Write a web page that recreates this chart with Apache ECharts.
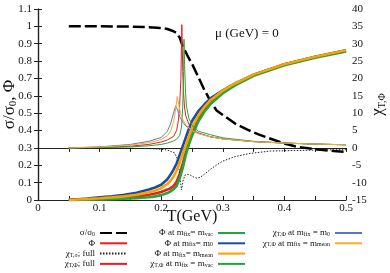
<!DOCTYPE html>
<html><head><meta charset="utf-8">
<script src="https://cdn.jsdelivr.net/npm/echarts@6/dist/echarts.min.js"></script>
<style>html,body{margin:0;padding:0;background:#fff}#c{width:390px;height:273px}</style>
</head><body><div id="c"></div>
<script>
// ---- data ----
const T_sigma = [0.05,0.1,0.15,0.18,0.2,0.21,0.22,0.225,0.23,0.235,0.24,0.245,0.25,0.26,0.27,0.28,0.29,0.3,0.32,0.34,0.36,0.38,0.4,0.42,0.45,0.48,0.5];
const sigmaRatio = [1.0,1.0,0.999,0.995,0.99,0.985,0.972,0.962,0.935,0.885,0.85,0.815,0.785,0.71,0.635,0.57,0.515,0.49,0.44,0.405,0.375,0.35,0.325,0.307,0.292,0.282,0.277];

const T_phi = [0.05,0.08,0.1,0.12,0.14,0.16,0.18,0.19,0.2,0.21,0.215,0.22,0.225,0.23,0.235,0.24,0.245,0.25,0.26,0.27,0.28,0.3,0.32,0.35,0.4,0.45,0.5];
const phiFull = [0,0.003,0.005,0.008,0.012,0.019,0.03,0.037,0.046,0.06,0.068,0.08,0.105,0.15,0.21,0.275,0.335,0.385,0.465,0.52,0.565,0.625,0.668,0.72,0.78,0.824,0.86];
const phiVac  = [0,0.002,0.003,0.005,0.007,0.01,0.016,0.021,0.028,0.04,0.05,0.062,0.08,0.125,0.185,0.26,0.32,0.37,0.45,0.508,0.552,0.615,0.66,0.715,0.776,0.82,0.855];
const phiM0   = [0,0.008,0.016,0.022,0.03,0.042,0.06,0.072,0.088,0.12,0.145,0.175,0.21,0.26,0.31,0.36,0.41,0.455,0.51,0.55,0.585,0.632,0.672,0.722,0.782,0.825,0.862];
const phiMean = [0,0.006,0.01,0.015,0.021,0.03,0.044,0.054,0.068,0.092,0.11,0.135,0.17,0.215,0.265,0.315,0.365,0.415,0.485,0.535,0.575,0.63,0.671,0.722,0.782,0.825,0.862];

const T_chiSigma = [0.05,0.1,0.15,0.18,0.2,0.21,0.222,0.227,0.2305,0.233,0.2355,0.2386,0.243,0.248,0.253,0.2576,0.263,0.27,0.279,0.29,0.3,0.32,0.344,0.377,0.42,0.46,0.5];
const chiSigmaFull = [0,0,-0.1,-0.2,-0.4,-0.6,-1.5,-3.5,-8.3,-12.1,-9.5,-7.8,-7.6,-7.9,-8.4,-8.7,-8.5,-7.6,-6.3,-4.9,-3.8,-2.5,-1.6,-0.9,-0.75,-0.6,-0.5];

const T_chiFull = [0.05,0.1,0.15,0.18,0.2,0.21,0.22,0.225,0.228,0.23,0.232,0.2335,0.235,0.236,0.238,0.24,0.245,0.25,0.26,0.28,0.3,0.35,0.4,0.45,0.5];
const chiPhiFull = [0,0.15,0.5,1.0,1.7,2.3,3.3,5.0,8.0,12.5,20,35.5,22,16.5,11.5,9.2,6.8,5.5,4.3,3.2,2.6,1.8,1.4,1.1,0.9];

const T_chiVac = [0.05,0.1,0.15,0.18,0.2,0.21,0.22,0.225,0.23,0.233,0.235,0.2365,0.237,0.238,0.2395,0.241,0.245,0.25,0.26,0.28,0.3,0.35,0.4,0.45,0.5];
const chiPhiVac = [0,0.1,0.3,0.6,1.0,1.4,2.0,2.5,3.6,6,12,22,31.3,24,16,12,8.5,6.5,4.8,3.8,2.9,1.9,1.4,1.1,0.9];

const T_chiM0 = [0.05,0.1,0.15,0.18,0.2,0.21,0.215,0.22,0.2235,0.226,0.23,0.235,0.24,0.25,0.26,0.28,0.3,0.35,0.4,0.45,0.5];
const chiPhiM0 = [0,0.3,1.0,1.9,3.0,4.8,6.8,10,12.1,11.2,9.0,7.4,6.3,5.0,4.2,3.2,2.6,1.8,1.4,1.1,0.9];

const T_chiMean = [0.05,0.1,0.15,0.18,0.2,0.21,0.215,0.22,0.223,0.226,0.229,0.232,0.236,0.24,0.25,0.26,0.28,0.3,0.35,0.4,0.45,0.5];
const chiPhiMean = [0,0.25,0.8,1.5,2.4,3.5,4.8,7.5,10.5,14.8,12,9.8,7.8,6.6,5.0,4.1,3.2,2.6,1.8,1.4,1.1,0.9];

const xTicks = [0,0.1,0.2,0.3,0.4,0.5];

// ---- chart ----
const FONT = 'Liberation Serif';
const C = {red:'#ec1c24', green:'#1fa83a', blue:'#1f4b9e', orange:'#f7a300', blueThin:'#5677c4', orangeThin:'#f6ad2a'};
function pairs(t,v){return t.map((x,i)=>[x,v[i]]);}

const labels = {
  'σ/σ0':'{n|σ/σ}{s|0}',
  'Φ':'{n|Φ}',
  'χT,σ; full':'{n|χ}{s|T,σ}{n|; full}',
  'χT,Φ; full':'{n|χ}{s|T,Φ}{n|; full}',
  'Φ at mfix=mvac':'{n|Φ at m}{s|fix}{n|= m}{s|vac}',
  'Φ at mfix=m0':'{n|Φ at m}{s|fix}{n|= m}{s|0}',
  'Φ at mfix=mmean':'{n|Φ at m}{s|fix}{n|= m}{s|mean}',
  'χT,Φ at mfix=mvac':'{n|χ}{s|T,Φ}{n| at m}{s|fix}{n| = m}{s|vac}',
  'χT,Φ at mfix=m0':'{n|χ}{s|T,Φ}{n| at m}{s|fix}{n| = m}{s|0}',
  'χT,Φ at mfix=mmean':'{n|χ}{s|T,Φ}{n| at m}{s|fix}{n| = m}{s|mean}'
};
const legRich = {
  n:{fontFamily:FONT,fontSize:9,color:'#111',lineHeight:9},
  s:{fontFamily:FONT,fontSize:6,color:'#111',lineHeight:4,verticalAlign:'bottom'}
};
function leg(data,right){
  return {data:data,orient:'vertical',align:'right',right:right,top:228.5,padding:0,
    itemWidth:27,itemHeight:8,itemGap:1.3,selectedMode:false,
    itemStyle:{color:'rgba(0,0,0,0)',borderColor:'rgba(0,0,0,0)',borderWidth:0,opacity:0},
    formatter:n=>labels[n],textStyle:{rich:legRich}};
}
function line(name,t,v,color,width,yIdx,type){
  return {name:name,type:'line',data:pairs(t,v),yAxisIndex:yIdx,symbol:'none',smooth:false,
    lineStyle:{color:color,width:width,type:type||'solid'},itemStyle:{color:color},z:2};
}

const axisLine = {show:true,lineStyle:{color:'#222',width:1.2}};
const tick = {show:true,inside:true,length:4,lineStyle:{color:'#222',width:1}};
const lab = {fontFamily:FONT,fontSize:11,color:'#111'};

const option = {
  animation:false,
  backgroundColor:'#fff',
  grid:{left:38,right:44,top:9,bottom:73,outerBoundsMode:'none',containLabel:false},
  xAxis:[
    {type:'value',min:0,max:0.5,interval:0.05,position:'bottom',
      name:'T(GeV)',nameLocation:'middle',nameGap:9,nameMoveOverlap:false,
      nameTextStyle:{fontFamily:FONT,fontSize:16,color:'#111'},
      axisLine:axisLine,axisTick:tick,splitLine:{show:false},
      axisLabel:Object.assign({margin:3,formatter:v=>{const k=Math.round(v*10);return Math.abs(v*10-k)<1e-6&&xTicks.indexOf(k/10)>=0?String(k/10):'';}},lab)},
    {type:'value',min:0,max:0.5,interval:0.05,position:'top',
      axisLine:axisLine,axisTick:tick,splitLine:{show:false},axisLabel:{show:false}}
  ],
  yAxis:[
    {type:'value',min:0,max:1.1,interval:0.1,position:'left',
      name:'{n|σ/σ}{s|0}{n|, Φ}',nameLocation:'middle',nameRotate:90,nameGap:19,nameMoveOverlap:false,
      nameTextStyle:{rich:{n:{fontFamily:FONT,fontSize:17,color:'#111',lineHeight:18},s:{fontFamily:FONT,fontSize:11,color:'#111',lineHeight:10,verticalAlign:'bottom'}}},
      axisLine:axisLine,axisTick:tick,splitLine:{show:false},
      axisLabel:Object.assign({margin:6},lab)},
    {type:'value',min:-15,max:40,interval:5,position:'right',
      name:'{n|χ}{s|T,Φ}',nameLocation:'middle',nameRotate:90,nameGap:23,nameMoveOverlap:false,
      nameTextStyle:{rich:{n:{fontFamily:FONT,fontSize:17,color:'#111',lineHeight:18},s:{fontFamily:FONT,fontSize:10,color:'#111',lineHeight:10,verticalAlign:'bottom'}}},
      axisLine:axisLine,axisTick:tick,splitLine:{show:false},
      axisLabel:Object.assign({margin:6},lab)}
  ],
  legend:[
    leg(['σ/σ0','Φ','χT,σ; full','χT,Φ; full'],262),
    leg(['Φ at mfix=mvac','Φ at mfix=m0','Φ at mfix=mmean','χT,Φ at mfix=mvac'],144),
    leg(['χT,Φ at mfix=m0','χT,Φ at mfix=mmean'],27)
  ],
  graphic:[{type:'text',left:215,top:27,style:{text:'μ (GeV) = 0',fontFamily:FONT,fontSize:13,fill:'#111'}}],
  series:[
    line('σ/σ0',T_sigma,sigmaRatio,'#000',2.5,0,[12,4]),
    line('Φ',T_phi,phiFull,C.red,2.6,0),
    line('χT,σ; full',T_chiSigma,chiSigmaFull,'#222',1,1,[1.5,1.5]),
    line('χT,Φ; full',T_chiFull,chiPhiFull,C.red,1,1),
    line('Φ at mfix=mvac',T_phi,phiVac,C.green,2.6,0),
    line('Φ at mfix=m0',T_phi,phiM0,C.blue,2.6,0),
    line('Φ at mfix=mmean',T_phi,phiMean,C.orange,2.6,0),
    line('χT,Φ at mfix=mvac',T_chiVac,chiPhiVac,C.green,1,1),
    line('χT,Φ at mfix=m0',T_chiM0,chiPhiM0,C.blueThin,1,1),
    line('χT,Φ at mfix=mmean',T_chiMean,chiPhiMean,C.orangeThin,1,1)
  ]
};
const chart = echarts.init(document.getElementById('c'),null,{renderer:'canvas'});
chart.setOption(option);
</script>
</body></html>
